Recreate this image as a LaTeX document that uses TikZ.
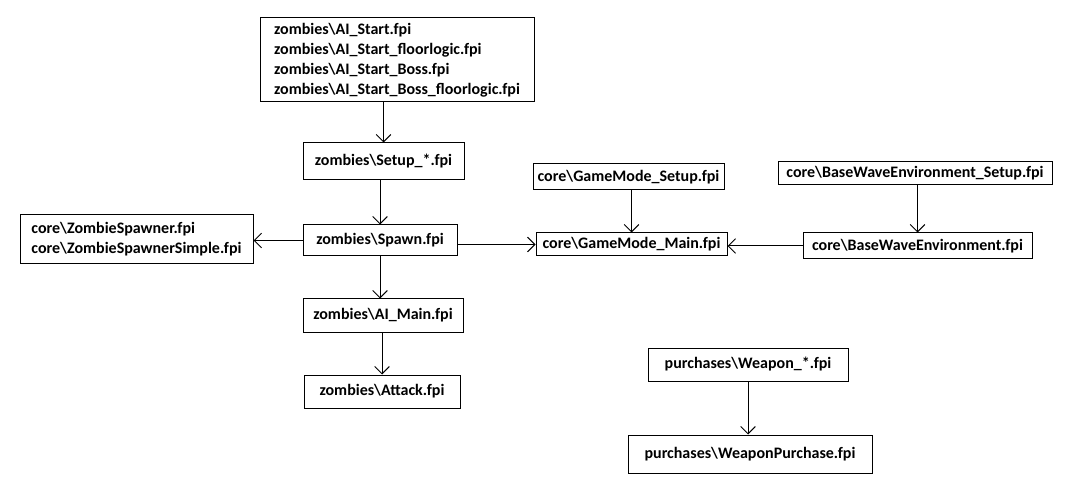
\documentclass[tikz,border=0pt]{standalone}
\usepackage{fontspec}
\setmainfont{Carlito}
\usepackage{tikz}
\usetikzlibrary{arrows.meta}
\tikzset{
  farrow/.style={-{Straight Barb[length=5.5pt,width=11pt]}, line width=0.75pt},
  fbox/.style={draw, line width=0.75pt, inner sep=0pt, align=left,
    font=\fontsize{12}{15}\selectfont\bfseries}
}
\newcommand{\bs}{\textbackslash}

\begin{document}
\begin{tikzpicture}[x=0.75pt, y=-0.75pt]
    \useasboundingbox (0,0) rectangle (1078,502);
    \node[fbox, minimum width=274*0.75pt, minimum height=84*0.75pt] (start) at (397,60)
      {zombies\bs AI\_Start.fpi\\zombies\bs AI\_Start\_floorlogic.fpi\\zombies\bs AI\_Start\_Boss.fpi\\zombies\bs AI\_Start\_Boss\_floorlogic.fpi};
    \node[fbox, minimum width=161*0.75pt, minimum height=37*0.75pt] (setup) at (383.5,161.5) {zombies\bs Setup\_*.fpi};
    \node[fbox, minimum width=154*0.75pt, minimum height=31*0.75pt] (spawn) at (380,240.5) {zombies\bs Spawn.fpi};
    \node[fbox, minimum width=233*0.75pt, minimum height=49*0.75pt] (spawner) at (136.5,239.5)
      {core\bs ZombieSpawner.fpi\\core\bs ZombieSpawnerSimple.fpi};
    \node[fbox, minimum width=160*0.75pt, minimum height=33*0.75pt] (aimain) at (383,315.5) {zombies\bs AI\_Main.fpi};
    \node[fbox, minimum width=156*0.75pt, minimum height=33*0.75pt] (attack) at (382,391.5) {zombies\bs Attack.fpi};
    \node[fbox, minimum width=191*0.75pt, minimum height=26*0.75pt] (gmsetup) at (628.5,177) {core\bs GameMode\_Setup.fpi};
    \node[fbox, minimum width=191*0.75pt, minimum height=23*0.75pt] (gmmain) at (631.5,244.5) {core\bs GameMode\_Main.fpi};
    \node[fbox, minimum width=274*0.75pt, minimum height=23*0.75pt] (bwsetup) at (915,173.5) {core\bs BaseWaveEnvironment\_Setup.fpi};
    \node[fbox, minimum width=229*0.75pt, minimum height=26*0.75pt] (bwenv) at (917.5,246) {core\bs BaseWaveEnvironment.fpi};
    \node[fbox, minimum width=200*0.75pt, minimum height=33*0.75pt] (weapon) at (748,364.5) {purchases\bs Weapon\_*.fpi};
    \node[fbox, minimum width=244*0.75pt, minimum height=38*0.75pt] (purchase) at (750,454) {purchases\bs WeaponPurchase.fpi};
    % zombie chain
    \draw[farrow] (start.south -| setup.north) -- (setup.north);
    \draw[farrow] (setup.south -| spawn.north) -- (spawn.north);
    \draw[farrow] (spawn.west) -- (spawn.west -| spawner.east);
    \draw[farrow] (spawn.east |- gmmain.west) -- (gmmain.west);
    \draw[farrow] (spawn.south) -- (spawn.south |- aimain.north);
    \draw[farrow] (aimain.south -| attack.north) -- (attack.north);
    % game mode
    \draw[farrow] (gmsetup.south -| gmmain.north) -- (gmmain.north);
    \draw[farrow] (bwsetup.south -| bwenv.north) -- (bwenv.north);
    \draw[farrow] (bwenv.west) -- (bwenv.west -| gmmain.east);
    % purchases
    \draw[farrow] (weapon.south) -- (weapon.south |- purchase.north);
  \end{tikzpicture}
\end{document}
